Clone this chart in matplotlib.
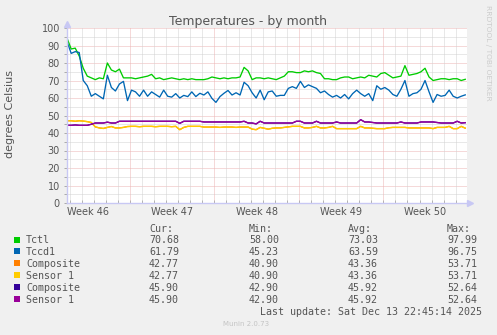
import numpy as np
import pandas as pd
import matplotlib
matplotlib.use("Agg")
import matplotlib.pyplot as plt
import matplotlib.dates as mdates
from matplotlib.patches import Rectangle

W, H = 497, 335

# munin month view, one sample every 8 hours
sample_start = "2025-11-11 19:00"
sample_step = "8h"
view_start = "2025-11-11 18:40"
view_end = "2025-12-14 22:30"

tctl = [
    94.0, 88.0, 88.5, 84.0, 77.0, 72.5, 71.5, 70.5, 71.5, 71.0,
    80.0, 76.0, 75.0, 76.5, 71.5, 71.5, 71.5, 71.0, 71.5, 72.0,
    72.5, 73.5, 71.0, 71.5, 70.5, 71.0, 71.5, 71.0, 70.5, 71.0,
    70.5, 71.0, 70.5, 70.5, 70.5, 71.0, 72.0, 71.5, 71.0, 71.5,
    71.0, 71.5, 71.5, 72.0, 77.5, 75.5, 70.5, 71.5, 71.5, 71.0,
    71.5, 71.0, 70.5, 71.5, 72.5, 75.0, 75.0, 74.5, 74.5, 75.5,
    75.0, 75.5, 74.5, 74.0, 71.0, 71.0, 70.5, 70.5, 71.5, 72.0,
    72.0, 71.0, 71.5, 72.0, 71.5, 73.0, 72.5, 72.0, 74.0, 74.5,
    73.0, 71.5, 72.0, 72.5, 78.5, 73.0, 73.5, 74.0, 75.0, 77.0,
    72.0, 70.0, 70.5, 71.0, 71.0, 70.5, 71.0, 71.0, 70.0, 70.68,
]
tccd1 = [
    92.0, 85.5, 86.5, 86.0, 70.0, 67.0, 61.0, 62.5, 61.0, 59.5,
    73.0, 66.0, 64.0, 68.0, 69.5, 58.5, 64.5, 63.5, 61.0, 64.5,
    61.0, 63.5, 62.0, 60.5, 64.5, 61.0, 60.5, 62.5, 60.0, 61.5,
    60.8, 63.5, 60.8, 62.7, 61.7, 63.5, 59.8, 57.5, 60.8, 62.7,
    64.3, 61.7, 63.0, 61.7, 69.0, 67.0, 63.0, 60.0, 64.5, 59.0,
    63.5, 64.0, 61.0, 61.5, 61.5, 65.5, 66.5, 65.5, 69.5, 66.0,
    67.5, 66.5, 65.5, 63.0, 64.0, 62.0, 60.5, 61.5, 60.0, 62.0,
    59.5, 62.5, 64.5, 62.5, 61.0, 62.5, 58.5, 67.0, 65.0, 66.0,
    64.5, 62.0, 61.0, 65.0, 70.0, 61.0, 62.5, 63.0, 65.0, 70.0,
    63.5, 57.5, 62.0, 61.0, 61.5, 64.5, 61.0, 60.0, 61.0, 61.79,
]
# nvme0: Composite and Sensor 1 report the same readings
nvme0 = [
    47.0, 47.0, 46.7, 47.0, 46.8, 46.5, 46.0, 43.5, 42.9, 42.6,
    43.2, 43.7, 42.9, 42.9, 43.2, 43.7, 43.8, 43.8, 43.6, 43.8,
    43.8, 43.8, 43.6, 43.8, 43.8, 43.8, 43.6, 43.8, 41.9, 43.2,
    43.8, 43.8, 43.8, 43.8, 43.4, 43.4, 43.4, 43.4, 43.2, 43.4,
    43.4, 43.4, 43.2, 43.4, 43.4, 43.4, 42.2, 41.9, 43.2, 42.7,
    42.2, 42.7, 42.9, 42.9, 43.2, 43.5, 43.8, 43.8, 43.8, 42.9,
    42.9, 43.2, 43.8, 42.9, 42.9, 43.2, 43.8, 42.5, 42.5, 42.5,
    42.5, 42.5, 42.5, 43.8, 42.9, 42.9, 42.7, 42.5, 42.5, 42.5,
    43.0, 43.2, 43.2, 43.2, 43.2, 42.9, 42.9, 42.9, 42.9, 42.9,
    42.9, 42.5, 43.2, 43.2, 43.2, 43.8, 42.5, 42.5, 43.8, 42.77,
]
nvme1 = [
    44.4, 44.4, 44.6, 44.4, 44.4, 44.4, 45.0, 45.7, 45.7, 45.7,
    46.2, 45.7, 45.7, 46.7, 46.7, 46.7, 46.7, 46.7, 46.7, 46.7,
    46.7, 46.7, 46.7, 46.7, 46.7, 46.7, 46.7, 46.7, 45.5, 46.7,
    46.7, 46.7, 46.7, 46.7, 46.3, 46.3, 46.3, 46.3, 46.3, 46.3,
    46.3, 46.3, 46.3, 46.3, 46.7, 45.7, 45.7, 45.2, 46.7, 45.7,
    45.7, 45.7, 45.7, 45.7, 45.7, 45.7, 45.7, 46.7, 46.7, 45.7,
    45.7, 45.7, 46.7, 45.7, 45.7, 45.7, 45.7, 46.3, 45.7, 45.7,
    45.7, 45.7, 45.7, 47.6, 46.3, 46.3, 46.0, 45.7, 45.7, 45.7,
    45.7, 45.7, 45.7, 46.3, 45.7, 45.7, 45.7, 45.7, 46.3, 46.3,
    46.3, 46.3, 46.0, 45.7, 45.7, 45.7, 45.7, 46.7, 45.7, 45.90,
]

names = ["Tctl", "Tccd1", "Composite", "Sensor 1", "Composite", "Sensor 1"]
colors = ["#00cc00", "#0066b3", "#ff8000", "#ffcc00", "#330099", "#990099"]
series = [tctl, tccd1, nvme0, nvme0, nvme1, nvme1]
cur = [70.68, 61.79, 42.77, 42.77, 45.90, 45.90]
vmin = [58.00, 45.23, 40.90, 40.90, 42.90, 42.90]
vavg = [73.03, 63.59, 43.36, 43.36, 45.92, 45.92]
vmax = [97.99, 96.75, 53.71, 53.71, 52.64, 52.64]

yticks = list(range(0, 101, 10))
last_update = "Last update: Sat Dec 13 22:45:14 2025"

GRAY = "#555555"
MONO = "DejaVu Sans Mono"

fig = plt.figure(figsize=(W / 100, H / 100), dpi=100, facecolor="#f0f0f0")
ax = fig.add_axes([67 / W, 1 - 203 / H, 400 / W, 175 / H])
ax.set_facecolor("white")

t = mdates.date2num(pd.date_range(sample_start, periods=len(tctl), freq=sample_step).to_pydatetime())
x0 = mdates.date2num(pd.Timestamp(view_start).to_pydatetime())
x1 = mdates.date2num(pd.Timestamp(view_end).to_pydatetime())

# grid: gray dotted minor, red dotted major
dots = (0, (1, 1))
grid_kw = dict(lw=0.72, ls=dots, zorder=1)
for v in range(5, 101, 5):
    c = "#ecb4b4" if v % 10 == 0 else "#d2d2d2"
    ax.axhline(v, color=c, **grid_kw)
days = pd.date_range("2025-11-12", "2025-12-14", freq="D")
for d in days:
    c = "#ecb4b4" if d.weekday() == 0 else "#d2d2d2"
    ax.axvline(mdates.date2num(d.to_pydatetime()), color=c, **grid_kw)

for vals, col in zip(series, colors):
    ax.plot(t, vals, color=col, lw=0.95, zorder=3)

ax.set_xlim(x0, x1)
ax.set_ylim(0, 100)
for s in ax.spines.values():
    s.set_visible(False)

ax.set_yticks(yticks)
ax.set_yticks(range(5, 100, 10), minor=True)
ax.tick_params(axis="y", which="both", length=2.2, width=0.7, color="#aaaaaa",
               pad=2.9, labelsize=7, labelcolor=GRAY)

mondays = pd.date_range("2025-11-10", "2025-12-08", freq="7D")
label_pos = [mdates.date2num((m + pd.Timedelta(hours=84)).to_pydatetime()) for m in mondays]
ax.set_xticks(label_pos)
ax.set_xticklabels([f"Week {m.isocalendar().week}" for m in mondays])
ax.set_xticks([mdates.date2num(d.to_pydatetime()) for d in days], minor=True)
ax.tick_params(axis="x", which="major", length=0, pad=3, labelsize=7, labelcolor=GRAY)
ax.tick_params(axis="x", which="minor", length=2, width=0.6, direction="in", color="#aaaaaa")

# axis lines with arrow heads
axis_c = "#c8c8f4"
ax.plot([0, 0], [0, 1.02], transform=ax.transAxes, color=axis_c, lw=1, clip_on=False, zorder=4)
ax.plot([0, 1.005], [0, 0], transform=ax.transAxes, color=axis_c, lw=1, clip_on=False, zorder=4)
ax.plot([0], [1.025], transform=ax.transAxes, marker="^", ms=4.5, color=axis_c, clip_on=False)
ax.plot([1.008], [0], transform=ax.transAxes, marker=">", ms=4.5, color=axis_c, clip_on=False)


def ftext(x, y, s, **kw):
    fig.text(x / W, 1 - y / H, s, **kw)


ftext(248, 25, "Temperatures - by month", ha="center", va="baseline", fontsize=9, color=GRAY)
ftext(10, 114, "degrees Celsius", ha="center", va="center", rotation=90, fontsize=8, color=GRAY)
ftext(488, 53, "RRDTOOL / TOBI OETIKER", ha="center", va="center", rotation=270,
      fontsize=5.4, color="#cccccc")

cols = [149, 249, 348, 447]
for cx, head in zip(cols, ["Cur:", "Min:", "Avg:", "Max:"]):
    ftext(cx, 231.5, head, fontsize=7.2, family=MONO, color=GRAY, va="baseline")

for i, name in enumerate(names):
    yb = 243.3 + 11.95 * i
    fig.patches.append(Rectangle((14 / W, 1 - (yb - 0.8) / H), 6 / W, 6 / H,
                                 transform=fig.transFigure, facecolor=colors[i],
                                 edgecolor="none"))
    ftext(26, yb, name, fontsize=7.2, family=MONO, color=GRAY, va="baseline")
    for cx, v in zip(cols, [cur[i], vmin[i], vavg[i], vmax[i]]):
        ftext(cx, yb, f"{v:.2f}", fontsize=7.2, family=MONO, color=GRAY, va="baseline")

ftext(482, 315, last_update, fontsize=7.2, family=MONO, color=GRAY, ha="right", va="baseline")
ftext(223, 326, "Munin 2.0.73", fontsize=5, color="#c4c4c4", va="baseline")

fig.savefig("out.png", dpi=100, facecolor=fig.get_facecolor())
